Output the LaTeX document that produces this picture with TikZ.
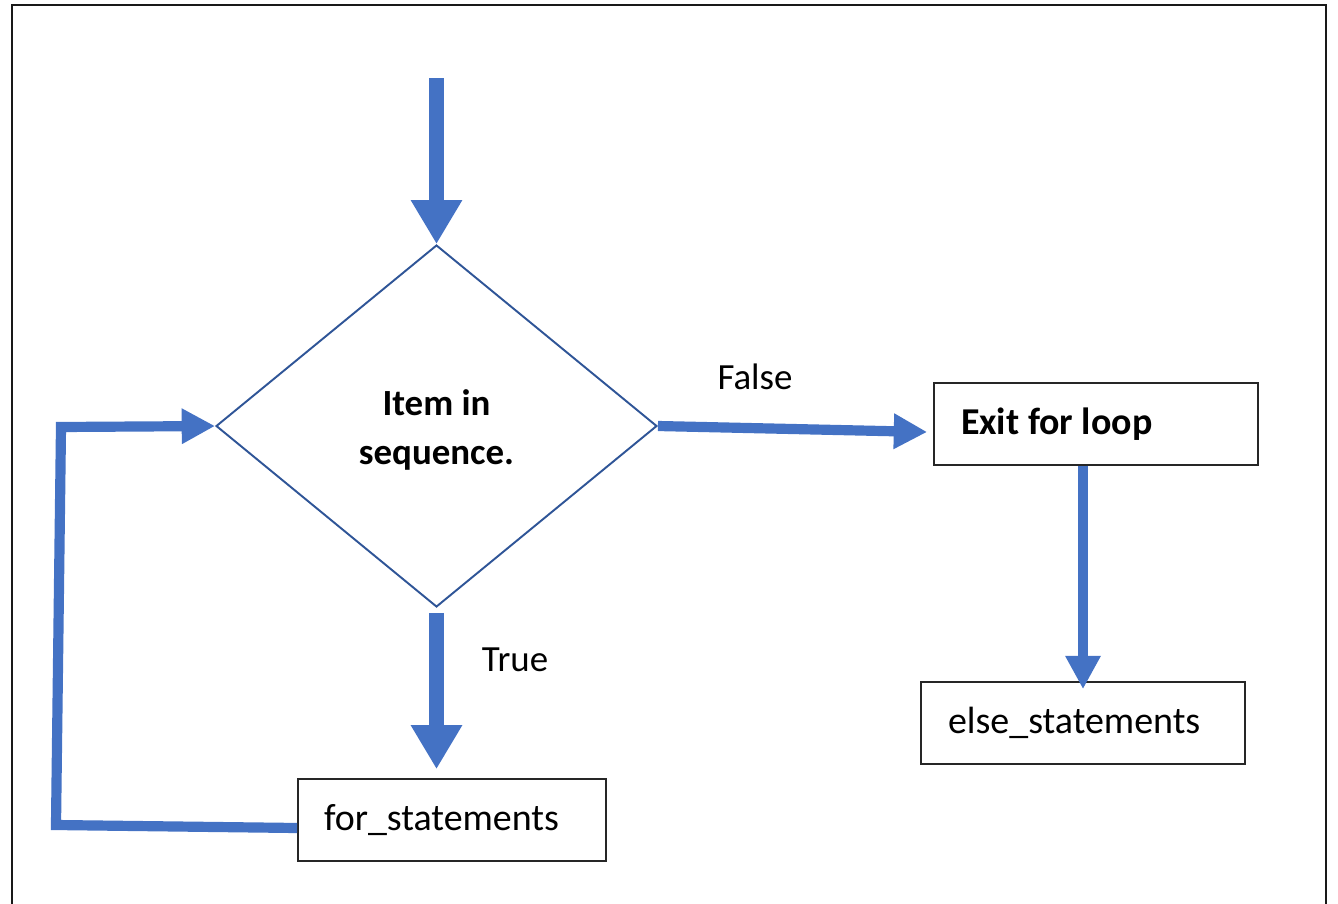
\documentclass[tikz,border=0pt]{standalone}
\usepackage{fontspec}
\setmainfont{Carlito}
\usetikzlibrary{shapes.geometric,arrows.meta}
\definecolor{flowblue}{HTML}{4472C4}
\definecolor{edgeblue}{HTML}{2F5597}
\tikzset{
  txt/.style={font=\fontsize{21pt}{28pt}\selectfont, text=black},
  boxtxt/.style={font=\fontsize{21.6pt}{28pt}\selectfont, text=black},
  stepbox/.style={draw=black!85, line width=1pt, boxtxt, align=flush left,
    minimum height=1.64cm, inner ysep=0pt, anchor=center},
  decision/.style={diamond, draw=edgeblue, line width=1.1pt,
    minimum width=8.82cm, minimum height=7.24cm, inner sep=0pt},
  bigflow/.style={draw=flowblue, line width=9pt,
    -{Triangle[width=27.5pt,length=25pt]}, color=flowblue},
  thinflow/.style={draw=flowblue, line width=5.8pt,
    -{Triangle[width=19pt,length=19pt]}, color=flowblue},
}
\begin{document}
\begin{tikzpicture}[x=0.02cm, y=-0.02cm]
  \useasboundingbox (0,0) rectangle (1338,903);
  % outer frame, open at the bottom
  \draw[line width=1.4pt, black!90] (12,910) -- (12,5) -- (1326,5) -- (1326,910);

  % decision and its question
  \node[decision] (d) at (436.5,426) {};
  \node[txt, font=\fontsize{21pt}{28pt}\selectfont\bfseries, align=center]
    (dq) at (436.5,430) {Item in\\sequence.};

  % statement boxes
  \node[stepbox, text width=5.4cm, inner xsep=0.54cm, font=\fontsize{21.6pt}{28pt}\selectfont\bfseries]
    (exit) at (1096,424) {Exit for loop};
  \node[stepbox, text width=5.4cm, inner xsep=0.54cm] (else) at (1083,723) {else\_statements};
  \node[stepbox, text width=5.12cm, inner xsep=0.52cm] (for) at (452,820) {for\_statements};

  % branch labels
  \node[txt] (lfalse) at (755,377) {False};
  \node[txt] (ltrue) at (515,660) {True};

  % entry arrow
  \coordinate (entry) at (436.5,78);
  \draw[bigflow] (entry) -- (d.north);

  % true branch
  \draw[bigflow, shorten <=0.1cm, shorten >=0.18cm] (d.south) -- (d.south |- for.north);

  % false branch
  \draw[thinflow] (d.east) -- ([xshift=-0.12cm,yshift=-0.16cm]exit.west);

  % exit to else
  \draw[thinflow] (else.north |- exit.south) -- ([yshift=-0.16cm]else.north);

  % loop back from for_statements to the decision
  \coordinate (lb) at (56,825);
  \coordinate (lt) at (61,427);
  \draw[thinflow] ([yshift=-0.16cm]for.west) -- (lb) -- (lt) -- (d.west);
\end{tikzpicture}
\end{document}
